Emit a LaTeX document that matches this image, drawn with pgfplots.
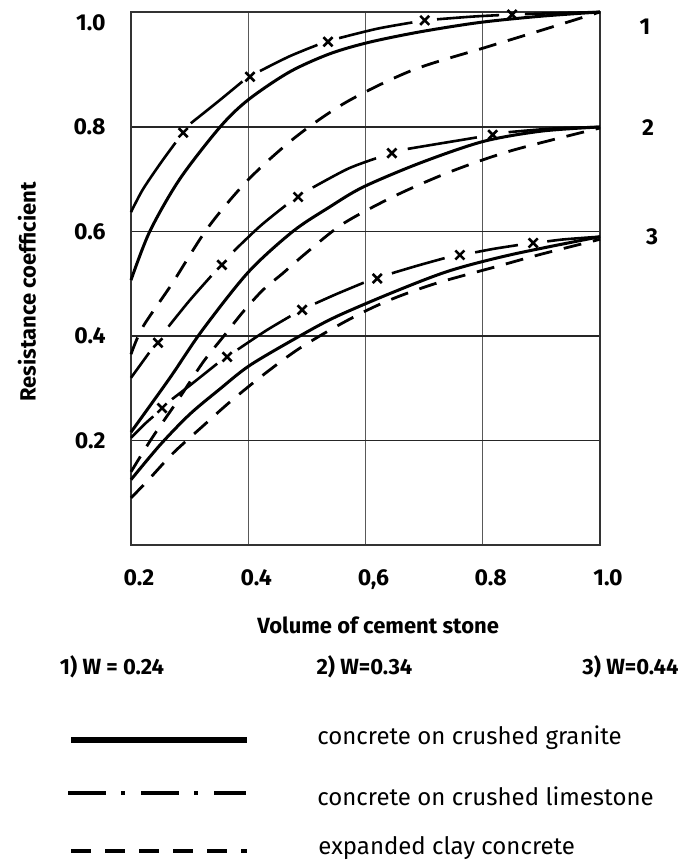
\documentclass[border=0pt]{standalone}
\usepackage{fontspec}
\setmainfont{Fira Sans}
\usepackage{pgfplots}
\pgfplotsset{compat=1.18}

\newcommand\ticks{\fontsize{11.5}{13}\selectfont\bfseries}
\newcommand\lab{\fontsize{11}{13}\selectfont\bfseries}
\newcommand\leg{\fontsize{12}{14}\selectfont}

\pgfplotsset{
  granite/.style={black, line width=1.5pt, smooth},
  clay/.style={black, line width=1.4pt, smooth, dash pattern=on 9pt off 6pt},
  lime/.style={black, line width=1.3pt, smooth},
  limex/.style={black, only marks, mark=x, mark size=3.2pt, mark options={solid, line width=1.3pt}},
}

\begin{document}
\begin{tikzpicture}
\path[use as bounding box] (0,0) rectangle (347.5pt,431.5pt);
\begin{axis}[
    at={(65.5pt,159pt)}, anchor=south west,
    scale only axis, width=234.5pt, height=266.5pt,
    xmin=0.2, xmax=1.0, ymin=0, ymax=1.02,
    clip=false,
    xtick={0.2,0.4,0.6,0.8,1.0},
    xticklabels={0.2,0.4,{0,6},0.8,1.0},
    ytick={0.2,0.4,0.6,0.8},
    yticklabels={0.2,0.4,0.6,0.8},
    extra y ticks={1.0},
    extra y tick labels={1.0},
    extra y tick style={grid=none},
    grid=major,
    x grid style={black!65, line width=0.6pt},
    y grid style={black!85, line width=0.7pt},
    major tick length=0pt,
    axis line style={black!80, line width=0.7pt},
    ticklabel style={font=\ticks},
    yticklabel style={xshift=-9.2pt},
    xticklabel style={yshift=-8.7pt, xshift=4pt},
    xlabel={Volume of cement stone},
    ylabel={Resistance coefficient},
    xlabel style={font=\lab, at={(axis description cs:0.527,-0.150)}, anchor=center},
    ylabel style={font=\lab, at={(axis description cs:-0.222,0.475)}, anchor=center},
]
% group 1
\addplot[granite] coordinates {(0.2,0.507)(0.232,0.60)(0.283,0.70)(0.352,0.80)(0.40,0.852)(0.47,0.905)(0.539,0.940)(0.606,0.962)(0.693,0.982)(0.795,1.0)(0.9,1.012)(1.0,1.02)};
\addplot[clay] coordinates {(0.2,0.365)(0.22,0.417)(0.27,0.50)(0.331,0.607)(0.40,0.699)(0.48,0.78)(0.568,0.848)(0.681,0.909)(0.807,0.953)(0.903,0.986)(1.0,1.02)};
\addplot[lime] coordinates {(0.200,0.637)(0.22,0.68)(0.25,0.73)(0.276,0.77)};
\addplot[lime] coordinates {(0.302,0.807)(0.35,0.85)(0.390,0.887)};
\addplot[lime] coordinates {(0.42,0.907)(0.47,0.935)(0.518,0.957)};
\addplot[lime] coordinates {(0.555,0.97)(0.62,0.988)(0.68,1.0)};
\addplot[lime] coordinates {(0.722,1.006)(0.78,1.011)(0.828,1.014)};
\addplot[lime] coordinates {(0.872,1.016)(0.93,1.018)(1.0,1.02)};
\addplot[limex] coordinates {(0.289,0.789)(0.403,0.896)(0.536,0.963)(0.701,1.004)(0.85,1.015)};
% group 2
\addplot[granite] coordinates {(0.2,0.216)(0.2665,0.32)(0.321,0.41)(0.40,0.522)(0.476,0.60)(0.539,0.647)(0.596,0.685)(0.693,0.731)(0.80,0.772)(0.9,0.792)(1.0,0.80)};
\addplot[clay] coordinates {(0.2,0.14)(0.236,0.205)(0.28,0.277)(0.323,0.35)(0.357,0.398)(0.391,0.446)(0.425,0.488)(0.459,0.52)(0.50,0.56)(0.562,0.615)(0.65,0.668)(0.744,0.714)(0.85,0.755)(1.0,0.798)};
\addplot[lime] coordinates {(0.2,0.32)(0.231,0.368)};
\addplot[lime] coordinates {(0.264,0.418)(0.30,0.468)(0.337,0.515)};
\addplot[lime] coordinates {(0.375,0.562)(0.42,0.61)(0.464,0.65)};
\addplot[lime] coordinates {(0.51,0.684)(0.57,0.72)(0.618,0.74)};
\addplot[lime] coordinates {(0.672,0.758)(0.72,0.767)(0.79,0.78)};
\addplot[lime] coordinates {(0.844,0.79)(0.92,0.797)(1.0,0.80)};
\addplot[limex] coordinates {(0.246,0.387)(0.355,0.536)(0.485,0.666)(0.645,0.75)(0.817,0.785)};
% group 3
\addplot[granite] coordinates {(0.2,0.125)(0.25,0.192)(0.30,0.25)(0.35,0.297)(0.403,0.344)(0.488,0.40)(0.55,0.437)(0.65,0.485)(0.744,0.525)(0.85,0.556)(1.0,0.59)};
\addplot[clay] coordinates {(0.2,0.09)(0.23,0.125)(0.272,0.176)(0.323,0.228)(0.369,0.274)(0.425,0.325)(0.483,0.373)(0.545,0.415)(0.604,0.45)(0.655,0.475)(0.724,0.502)(0.824,0.533)(0.898,0.556)(1.0,0.585)};
\addplot[lime] coordinates {(0.2,0.205)(0.222,0.23)(0.238,0.246)};
\addplot[lime] coordinates {(0.27,0.279)(0.30,0.305)(0.347,0.347)};
\addplot[lime] coordinates {(0.382,0.374)(0.43,0.41)(0.472,0.438)};
\addplot[lime] coordinates {(0.514,0.462)(0.55,0.48)(0.597,0.502)};
\addplot[lime] coordinates {(0.645,0.52)(0.69,0.535)(0.735,0.549)};
\addplot[lime] coordinates {(0.787,0.56)(0.82,0.567)(0.86,0.574)};
\addplot[lime] coordinates {(0.91,0.581)(0.94,0.585)(1.0,0.59)};
\addplot[limex] coordinates {(0.253,0.262)(0.364,0.36)(0.492,0.45)(0.62,0.51)(0.761,0.555)(0.886,0.578)};
\end{axis}

% group numbers on the right
\node[font=\ticks] at (322.5pt,418pt) {1};
\node[font=\ticks] at (324pt,367.5pt) {2};
\node[font=\ticks] at (326pt,313pt) {3};

% W values
\node[font=\lab] at (56pt,98pt) {1) W = 0.24};
\node[font=\lab] at (182.25pt,98pt) {2) W=0.34};
\node[font=\lab] at (315.25pt,98pt) {3) W=0.44};

% legend
\draw[line width=2.6pt] (35.5pt,61.5pt) -- (123.5pt,61.5pt);
\draw[line width=2.2pt, dash pattern=on 19pt off 7.5pt on 2.2pt off 7.8pt] (34pt,35pt) -- (123pt,35pt);
\draw[line width=2.4pt, dash pattern=on 10pt off 7pt] (35.5pt,6pt) -- (123.5pt,6pt);
\node[font=\leg, anchor=west, inner sep=0pt] at (158.5pt,62.5pt) {concrete on crushed granite};
\node[font=\leg, anchor=west, inner sep=0pt] at (158.5pt,33.5pt) {concrete on crushed limestone};
\node[font=\leg, anchor=west, inner sep=0pt] at (159pt,7.5pt) {expanded clay concrete};
\end{tikzpicture}
\end{document}
